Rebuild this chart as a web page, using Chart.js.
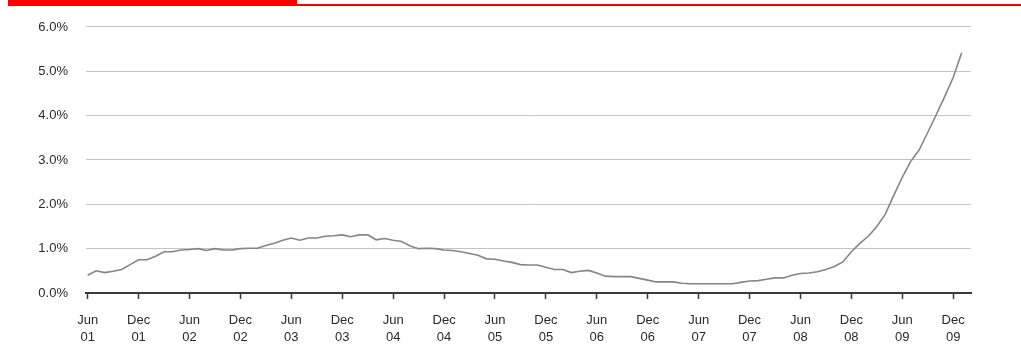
<!DOCTYPE html>
<html>
<head>
<meta charset="utf-8">
<script src="https://cdn.jsdelivr.net/npm/chart.js@4.4.1/dist/chart.umd.min.js"></script>
<style>
  html, body { margin: 0; padding: 0; background: #fff; }
  #wrap { position: relative; width: 1021px; height: 360px; overflow: hidden; }
  #rule-thick { position: absolute; left: 8px; top: 0; width: 289px; height: 6px; background: #ff0000; }
  #rule-thin { position: absolute; left: 297px; top: 4px; width: 724px; height: 2px; background: #ff0000; }
  canvas { position: absolute; left: 0; top: 0; }
</style>
</head>
<body>
<div id="wrap">
  <canvas id="chart" width="1021" height="360"></canvas>
  <div id="rule-thick"></div>
  <div id="rule-thin"></div>
</div>
<script>
// Monthly rate (%), June 2001 through January 2010
const rates2001 = [0.40, 0.50, 0.46, 0.49, 0.53, 0.64, 0.75];               // Jun–Dec
const rates2002 = [0.75, 0.83, 0.93, 0.93, 0.97, 0.98, 1.00, 0.96, 1.00, 0.97, 0.97, 1.00];
const rates2003 = [1.01, 1.01, 1.07, 1.12, 1.19, 1.24, 1.19, 1.24, 1.24, 1.28, 1.29, 1.31];
const rates2004 = [1.27, 1.31, 1.31, 1.20, 1.23, 1.19, 1.16, 1.06, 1.00, 1.01, 1.00, 0.97];
const rates2005 = [0.96, 0.93, 0.89, 0.85, 0.77, 0.76, 0.72, 0.69, 0.64, 0.63, 0.63, 0.58];
const rates2006 = [0.53, 0.53, 0.46, 0.49, 0.51, 0.45, 0.38, 0.37, 0.37, 0.37, 0.33, 0.29];
const rates2007 = [0.25, 0.25, 0.25, 0.22, 0.21, 0.21, 0.21, 0.21, 0.21, 0.21, 0.24, 0.27];
const rates2008 = [0.28, 0.31, 0.34, 0.34, 0.40, 0.44, 0.45, 0.48, 0.53, 0.60, 0.70, 0.93];
const rates2009 = [1.12, 1.28, 1.50, 1.78, 2.20, 2.61, 2.97, 3.23, 3.62, 4.02, 4.43, 4.86];
const rates2010 = [5.42];                                                     // Jan

// Axis labels: one every six months, starting with the first month of data
const tickMonths = ['Jun', 'Dec', 'Jun', 'Dec', 'Jun', 'Dec', 'Jun', 'Dec', 'Jun',
                    'Dec', 'Jun', 'Dec', 'Jun', 'Dec', 'Jun', 'Dec', 'Jun', 'Dec'];
const tickYears  = ['01', '01', '02', '02', '03', '03', '04', '04', '05',
                    '05', '06', '06', '07', '07', '08', '08', '09', '09'];
const yTicks = [0, 1, 2, 3, 4, 5, 6];

const rates = [].concat(rates2001, rates2002, rates2003, rates2004, rates2005,
                        rates2006, rates2007, rates2008, rates2009, rates2010);
const points = rates.map((v, i) => ({ x: i, y: v }));
const tickPositions = tickMonths.map((_, i) => i * 6);

const labelFont = {
  family: "'Liberation Sans', Arial, sans-serif",
  size: 13,
  lineHeight: 1.38
};

new Chart(document.getElementById('chart'), {
  type: 'line',
  data: {
    datasets: [{
      data: points,
      borderColor: '#858585',
      borderWidth: 1.6,
      pointRadius: 0,
      tension: 0,
      fill: false
    }]
  },
  options: {
    responsive: false,
    animation: false,
    events: [],
    layout: { padding: { left: 0, right: 50, top: 25, bottom: 0 } },
    plugins: { legend: { display: false }, tooltip: { enabled: false } },
    scales: {
      x: {
        type: 'linear',
        min: -0.2,
        max: 104.1,
        afterBuildTicks: s => { s.ticks = tickPositions.map(v => ({ value: v })); },
        afterFit: s => { s.height = 67; },
        grid: {
          drawOnChartArea: false,
          drawTicks: true,
          tickLength: 6,
          tickColor: '#3a3a3a',
          tickWidth: 1.5
        },
        border: { display: true, color: '#3a3a3a', width: 2 },
        ticks: {
          autoSkip: false,
          maxRotation: 0,
          padding: 12,
          color: '#2a2a2a',
          font: labelFont,
          callback: (v, i) => [tickMonths[i], tickYears[i]]
        }
      },
      y: {
        min: 0,
        max: 6,
        afterBuildTicks: s => { s.ticks = yTicks.map(v => ({ value: v })); },
        afterFit: s => { s.width = 86; },
        grid: {
          color: '#c4c4c4',
          lineWidth: 1,
          drawTicks: false
        },
        border: { display: false },
        ticks: {
          padding: 18,
          color: '#2a2a2a',
          font: labelFont,
          callback: v => v.toFixed(1) + '%'
        }
      }
    }
  }
});
</script>
</body>
</html>
